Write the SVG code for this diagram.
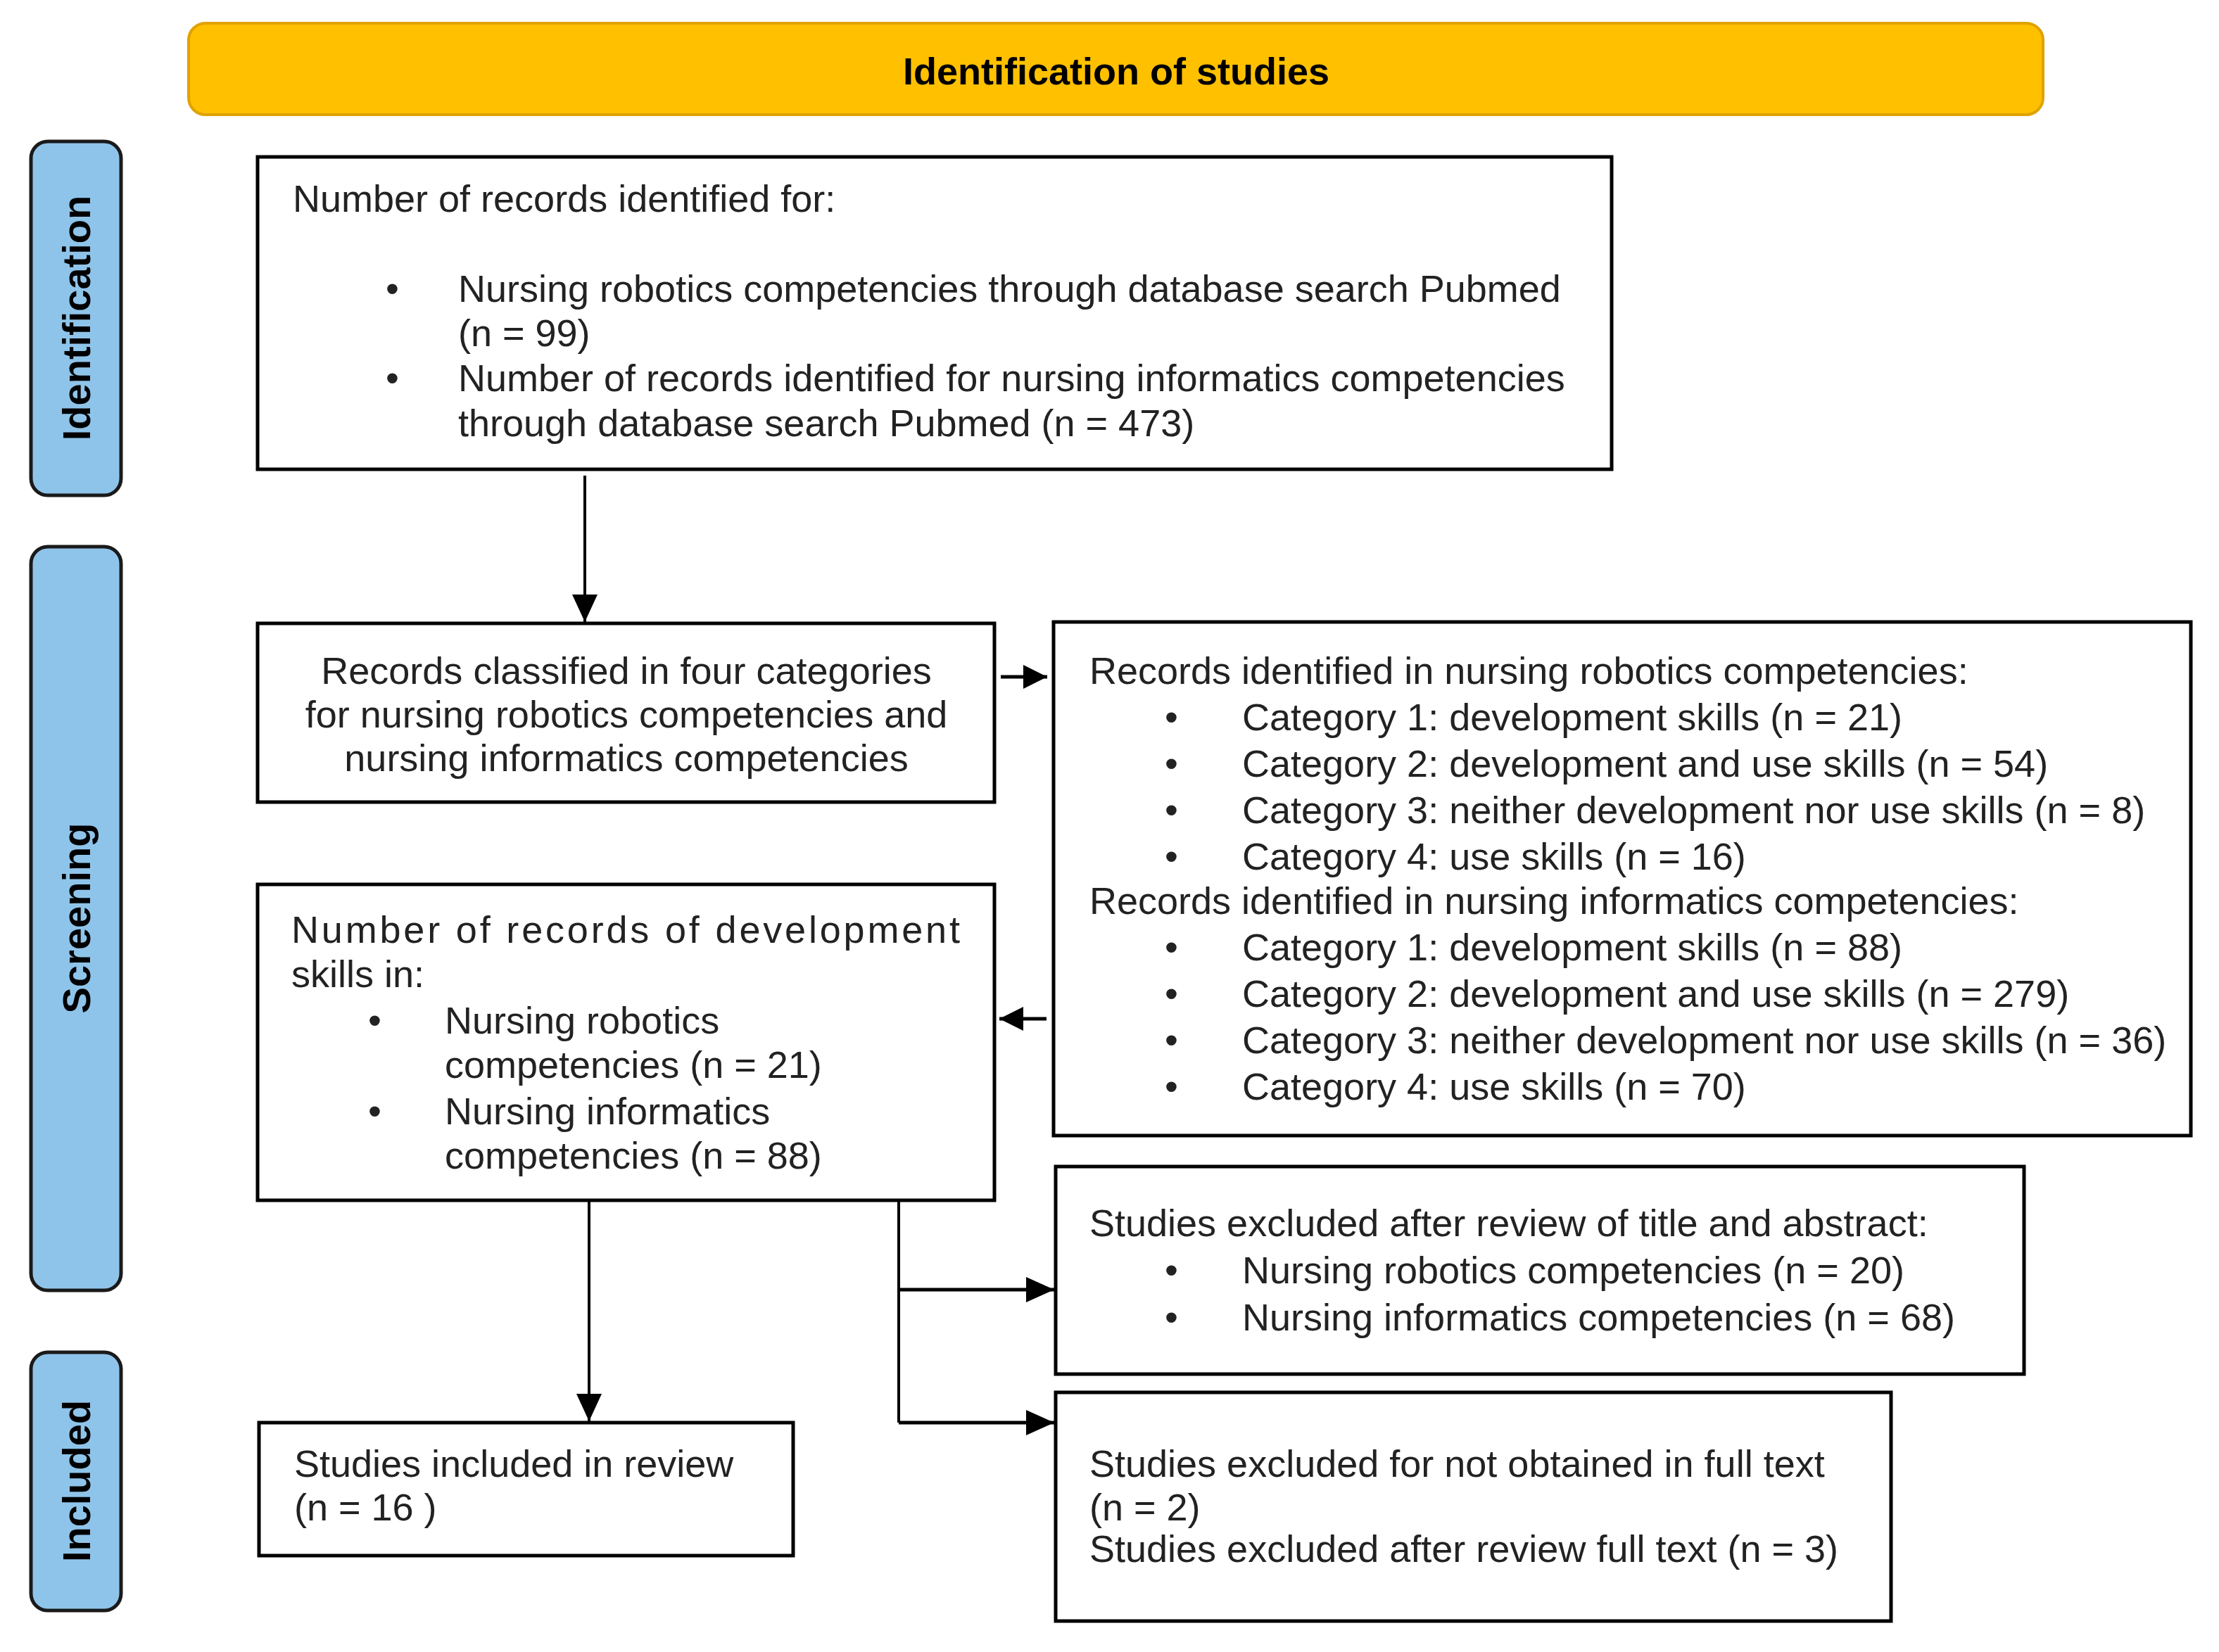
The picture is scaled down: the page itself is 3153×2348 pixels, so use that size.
<svg xmlns="http://www.w3.org/2000/svg" width="3153" height="2348" viewBox="0 0 3153 2348">
<defs>
<style>
.box{fill:#fff;stroke:#000;stroke-width:5}
.pill{fill:#8FC4EA;stroke:#1a1a1a;stroke-width:5}
.pt{font-family:"Liberation Sans",Arial,sans-serif;font-weight:bold;font-size:56px;fill:#000;text-anchor:middle;dominant-baseline:central}
.t{font-family:"Liberation Sans",Arial,sans-serif;font-size:54px;fill:#222}
.c{text-anchor:middle}
.thin{stroke:#000;stroke-width:4;fill:none}
.bold{stroke:#000;stroke-width:5;fill:none}
</style>
<marker id="ah" markerUnits="userSpaceOnUse" markerWidth="39" markerHeight="36" refX="39" refY="18" orient="auto"><path d="M0,0 L39,18 L0,36 z" fill="#000"/></marker>
<marker id="ahs" markerUnits="userSpaceOnUse" markerWidth="34" markerHeight="34" refX="34" refY="17" orient="auto"><path d="M0,0 L34,17 L0,34 z" fill="#000"/></marker>
<marker id="ahb" markerUnits="userSpaceOnUse" markerWidth="40" markerHeight="36" refX="40" refY="18" orient="auto"><path d="M0,0 L40,18 L0,36 z" fill="#000"/></marker>
</defs>
<rect width="3153" height="2348" fill="#fff"/>
<g id="header">
<rect x="268" y="33" width="2635" height="130" rx="24" fill="#FFC000" stroke="#E0A200" stroke-width="4"/>
<text x="1586" y="120" font-family="Liberation Sans,Arial,sans-serif" font-weight="bold" font-size="54" text-anchor="middle" fill="#000">Identification of studies</text>
</g>
<g id="phase-identification">
<rect class="pill" x="44" y="201" width="128" height="503" rx="24"/>
<text class="pt" transform="translate(108,452) rotate(-90)">Identification</text>
</g>
<g id="phase-screening">
<rect class="pill" x="44" y="777" width="128" height="1057" rx="24"/>
<text class="pt" transform="translate(108,1305) rotate(-90)">Screening</text>
</g>
<g id="phase-included">
<rect class="pill" x="44" y="1922" width="128" height="367" rx="24"/>
<text class="pt" transform="translate(108,2105) rotate(-90)">Included</text>
</g>
<g id="records-identified">
<rect class="box" x="366" y="223" width="1924" height="444"/>
<text class="t" x="416" y="301">Number of records identified for:</text>
<text class="t" x="548" y="429">•</text>
<text class="t" x="651" y="429">Nursing robotics competencies through database search Pubmed</text>
<text class="t" x="651" y="492">(n = 99)</text>
<text class="t" x="548" y="556">•</text>
<text class="t" x="651" y="556">Number of records identified for nursing informatics competencies</text>
<text class="t" x="651" y="620">through database search Pubmed (n = 473)</text>
</g>
<g id="records-classified">
<rect class="box" x="366" y="886" width="1047" height="254"/>
<text class="t c" x="890" y="972">Records classified in four categories</text>
<text class="t c" x="890" y="1034">for nursing robotics competencies and</text>
<text class="t c" x="890" y="1096">nursing informatics competencies</text>
</g>
<g id="records-categories">
<rect class="box" x="1497" y="884" width="1616" height="730"/>
<text class="t" x="1548" y="972">Records identified in nursing robotics competencies:</text>
<text class="t" x="1655" y="1038">•</text><text class="t" x="1765" y="1038">Category 1: development skills (n = 21)</text>
<text class="t" x="1655" y="1104">•</text><text class="t" x="1765" y="1104">Category 2: development and use skills (n = 54)</text>
<text class="t" x="1655" y="1170">•</text><text class="t" x="1765" y="1170">Category 3: neither development nor use skills (n = 8)</text>
<text class="t" x="1655" y="1236">•</text><text class="t" x="1765" y="1236">Category 4: use skills (n = 16)</text>
<text class="t" x="1548" y="1299">Records identified in nursing informatics competencies:</text>
<text class="t" x="1655" y="1365">•</text><text class="t" x="1765" y="1365">Category 1: development skills (n = 88)</text>
<text class="t" x="1655" y="1431">•</text><text class="t" x="1765" y="1431">Category 2: development and use skills (n = 279)</text>
<text class="t" x="1655" y="1497">•</text><text class="t" x="1765" y="1497">Category 3: neither development nor use skills (n = 36)</text>
<text class="t" x="1655" y="1563">•</text><text class="t" x="1765" y="1563">Category 4: use skills (n = 70)</text>
</g>
<g id="development-skills">
<rect class="box" x="366" y="1257" width="1047" height="449"/>
<text class="t" x="414" y="1340" textLength="950" lengthAdjust="spacing">Number of records of development</text>
<text class="t" x="414" y="1403">skills in:</text>
<text class="t" x="523" y="1469">•</text><text class="t" x="632" y="1469">Nursing robotics</text>
<text class="t" x="632" y="1532">competencies (n = 21)</text>
<text class="t" x="523" y="1598">•</text><text class="t" x="632" y="1598">Nursing informatics</text>
<text class="t" x="632" y="1661">competencies (n = 88)</text>
</g>
<g id="excluded-title-abstract">
<rect class="box" x="1500" y="1658" width="1376" height="295"/>
<text class="t" x="1548" y="1757">Studies excluded after review of title and abstract:</text>
<text class="t" x="1655" y="1824">•</text><text class="t" x="1765" y="1824">Nursing robotics competencies (n = 20)</text>
<text class="t" x="1655" y="1891">•</text><text class="t" x="1765" y="1891">Nursing informatics competencies (n = 68)</text>
</g>
<g id="excluded-full-text">
<rect class="box" x="1500" y="1979" width="1187" height="325"/>
<text class="t" x="1548" y="2099">Studies excluded for not obtained in full text</text>
<text class="t" x="1548" y="2161">(n = 2)</text>
<text class="t" x="1548" y="2220">Studies excluded after review full text (n = 3)</text>
</g>
<g id="studies-included">
<rect class="box" x="368" y="2022" width="759" height="189"/>
<text class="t" x="418" y="2099">Studies included in review</text>
<text class="t" x="418" y="2161">(n = 16 )</text>
</g>
<g id="connectors">
<line class="thin" x1="831" y1="676" x2="831" y2="884" marker-end="url(#ah)"/>
<line class="bold" x1="1422" y1="962" x2="1488" y2="962" marker-end="url(#ahs)"/>
<line class="bold" x1="1487" y1="1448" x2="1420" y2="1448" marker-end="url(#ahs)"/>
<line class="thin" x1="837" y1="1708" x2="837" y2="2020" marker-end="url(#ah)"/>
<line class="thin" x1="1277" y1="1708" x2="1277" y2="2022"/>
<line class="bold" x1="1277" y1="1833" x2="1498" y2="1833" marker-end="url(#ahb)"/>
<line class="bold" x1="1277" y1="2022" x2="1498" y2="2022" marker-end="url(#ahb)"/>
</g>
</svg>
